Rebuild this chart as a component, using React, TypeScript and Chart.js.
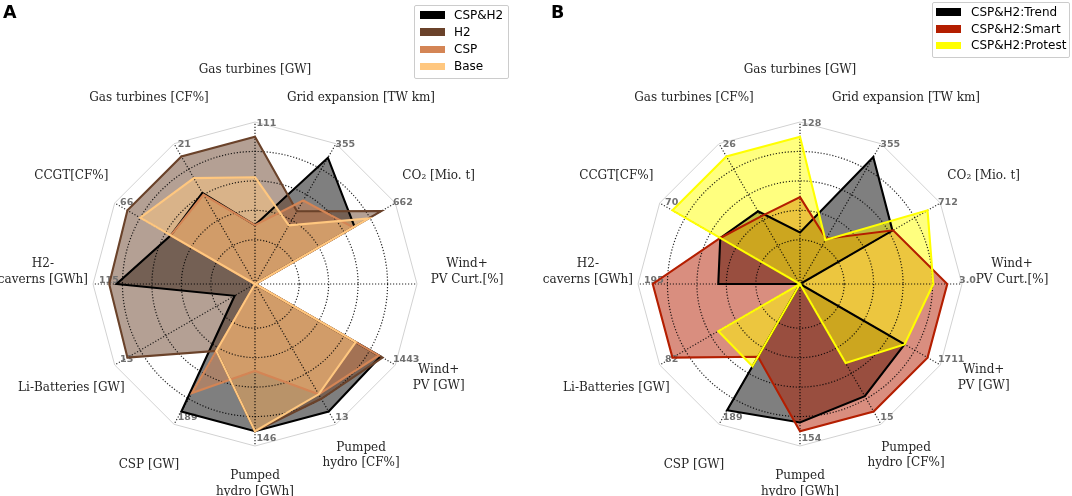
import React, { useEffect, useRef } from "react";
import { Chart, registerables } from "chart.js";

Chart.register(...registerables);

// ---------- data ----------
const AXIS_LABELS = [
  "Gas turbines [GW]",
  "Grid expansion [TW km]",
  "CO\u2082 [Mio. t]",
  "Wind+\nPV Curt.[%]",
  "Wind+\nPV [GW]",
  "Pumped\nhydro [CF%]",
  "Pumped\nhydro [GWh]",
  "CSP [GW]",
  "Li-Batteries [GW]",
  "H2-\ncaverns [GWh]",
  "CCGT[CF%]",
  "Gas turbines [CF%]",
];

const TICKS_A = ["111", "355", "662", "", "1443", "13", "146", "189", "13", "115", "66", "21"];
const TICKS_B = ["128", "355", "712", "3.0", "1711", "15", "154", "189", "82", "195", "70", "26"];

// values as fraction of each axis maximum (the tick label)
const SERIES_A = ["CSP&H2", "H2", "CSP", "Base"];
const COLORS_A = ["#000000", "#6a422a", "#d48555", "#ffc77f"];
const CSP_H2 = [0.4, 0.99, 0.78, 0, 0.985, 1.0, 1.0, 1.0, 0.16, 0.94, 0.66, 0.715];
const H2 = [1.0, 0.57, 0.99, 0, 1.0, 0.9, 1.0, 0.525, 1.0, 0.99, 1.0, 1.0];
const CSP = [0.4, 0.655, 0.77, 0, 0.97, 0.865, 0.59, 0.855, 0, 0, 0.66, 0.7];
const BASE = [0.725, 0.46, 0.89, 0, 0.79, 0.865, 1.0, 0.525, 0, 0, 0.9, 0.83];

const SERIES_B = ["CSP&H2:Trend", "CSP&H2:Smart", "CSP&H2:Protest"];
const COLORS_B = ["#000000", "#b41e00", "#ffff00"];
const TREND = [0.35, 0.995, 0.725, 0, 0.82, 0.88, 0.94, 0.99, 0, 0.555, 0.625, 0.57];
const SMART = [0.59, 0.355, 0.73, 1.0, 1.0, 1.0, 1.0, 0.57, 1.0, 1.0, 0.625, 0.53];
const PROTEST = [1.0, 0.345, 1.0, 0.905, 0.82, 0.62, 0, 0.645, 0.64, 0, 1.0, 1.0];

const RING_VALUES = [0.3, 0.5, 0.7, 0.9];
const SCALE_MAX = 1.1;
const TICK_LABEL_AT = 1.07;
const AXIS_LABEL_AT = 1.44;

// ---------- helpers ----------
function hexA(hex: string, a: number) {
  const n = parseInt(hex.slice(1), 16);
  return `rgba(${(n >> 16) & 255},${(n >> 8) & 255},${n & 255},${a})`;
}

function overlayPlugin(ticks: string[]) {
  return {
    id: "radarOverlay",
    beforeDatasetsDraw(chart: any) {
      const s = chart.scales.r;
      const ctx = chart.ctx as CanvasRenderingContext2D;
      const n = chart.data.labels.length;
      ctx.save();
      // outer polygon frame
      ctx.lineWidth = 1;
      ctx.strokeStyle = "#d2d2d2";
      ctx.setLineDash([]);
      ctx.beginPath();
      for (let i = 0; i < n; i++) {
        const p = s.getPointPositionForValue(i, SCALE_MAX);
        if (i === 0) ctx.moveTo(p.x, p.y);
        else ctx.lineTo(p.x, p.y);
      }
      ctx.closePath();
      ctx.stroke();
      // dotted rings
      ctx.strokeStyle = "rgba(0,0,0,0.85)";
      ctx.lineWidth = 1.2;
      ctx.setLineDash([1.2, 1.8]);
      for (const v of RING_VALUES) {
        const r = s.getDistanceFromCenterForValue(v);
        ctx.beginPath();
        ctx.arc(s.xCenter, s.yCenter, r, 0, Math.PI * 2);
        ctx.stroke();
      }
      // dotted spokes
      for (let i = 0; i < n; i++) {
        const p = s.getPointPositionForValue(i, SCALE_MAX);
        ctx.beginPath();
        ctx.moveTo(s.xCenter, s.yCenter);
        ctx.lineTo(p.x, p.y);
        ctx.stroke();
      }
      // maxima labels
      ctx.setLineDash([]);
      ctx.fillStyle = "#707070";
      ctx.font = 'bold 9.5px "DejaVu Sans"';
      ctx.textAlign = "left";
      ctx.textBaseline = "middle";
      ticks.forEach((t, i) => {
        if (!t) return;
        const p = s.getPointPositionForValue(i, TICK_LABEL_AT);
        ctx.fillText(t, p.x + 1.5, p.y - 3);
      });
      ctx.restore();
    },
    afterDraw(chart: any) {
      const s = chart.scales.r;
      const ctx = chart.ctx as CanvasRenderingContext2D;
      ctx.save();
      ctx.fillStyle = "#262626";
      ctx.font = '12px "DejaVu Serif"';
      ctx.textAlign = "center";
      ctx.textBaseline = "middle";
      AXIS_LABELS.forEach((lab, i) => {
        const lines = lab.split("\n");
        const p = s.getPointPositionForValue(i, AXIS_LABEL_AT);
        const k = lines.length;
        const base = k > 1 ? p.y - 4.5 : p.y - 2.5;
        lines.forEach((ln, j) => {
          ctx.fillText(ln, p.x, base - (k - 1 - j) * 15.2);
        });
      });
      ctx.restore();
    },
  };
}

type PanelProps = {
  left: number;
  padLeft: number;
  names: string[];
  colors: string[];
  values: number[][];
  ticks: string[];
};

function RadarPanel({ left, padLeft, names, colors, values, ticks }: PanelProps) {
  const ref = useRef<HTMLCanvasElement | null>(null);
  useEffect(() => {
    if (!ref.current) return;
    const n = names.length;
    const chart = new Chart(ref.current, {
      type: "radar",
      data: {
        labels: AXIS_LABELS.map((l) => l.replace("\n", " ")),
        datasets: names.map((name, k) => ({
          label: name,
          data: values[k],
          borderColor: colors[k],
          backgroundColor: hexA(colors[k], 0.5),
          borderWidth: 2.1,
          fill: true,
          pointRadius: 0,
          pointHoverRadius: 0,
          order: n - k,
          borderJoinStyle: "miter" as const,
        })),
      },
      options: {
        responsive: false,
        animation: false,
        events: [],
        layout: { padding: { left: padLeft, right: 536 - padLeft - 324, top: 122, bottom: 50 } },
        plugins: {
          legend: { display: false },
          tooltip: { enabled: false },
          filler: { drawTime: "beforeDatasetsDraw" },
        } as any,
        elements: { line: { tension: 0 } },
        scales: {
          r: {
            min: 0,
            max: SCALE_MAX,
            ticks: { display: false },
            grid: { display: false },
            angleLines: { display: false },
            pointLabels: { display: false },
          },
        },
      },
      plugins: [overlayPlugin(ticks)],
    });
    return () => chart.destroy();
  }, []);
  return (
    <canvas
      ref={ref}
      width={536}
      height={496}
      style={{ position: "absolute", left, top: 0, width: 536, height: 496, display: "block" }}
    />
  );
}

function Legend({ left, top, width, height, rowY, swatchLeft, textLeft, names, colors }: any) {
  return (
    <div
      style={{
        position: "absolute",
        left,
        top,
        width,
        height,
        border: "1px solid #cccccc",
        borderRadius: 2,
        background: "rgba(255,255,255,0.8)",
        boxSizing: "border-box",
      }}
    >
      {names.map((nm: string, i: number) => (
        <div
          key={nm}
          style={{
            position: "absolute",
            left: 0,
            top: rowY[i] - top - 1 - 8.5,
            height: 17,
            display: "flex",
            alignItems: "center",
            whiteSpace: "nowrap",
          }}
        >
          <div
            style={{
              marginLeft: swatchLeft - left - 1,
              width: 25,
              height: 7.5,
              background: colors[i],
            }}
          />
          <div
            style={{
              marginLeft: textLeft - swatchLeft - 25,
              font: '12px "DejaVu Sans"',
              lineHeight: "12px",
              color: "#000",
            }}
          >
            {nm}
          </div>
        </div>
      ))}
    </div>
  );
}

const titleStyle: React.CSSProperties = {
  position: "absolute",
  top: 4,
  font: 'bold 17.5px "DejaVu Sans"',
  lineHeight: "17.5px",
  color: "#000",
};

export default function App() {
  return (
    <div
      style={{
        position: "absolute",
        left: 0,
        top: 0,
        width: 1072,
        height: 496,
        overflow: "hidden",
        background: "#fff",
      }}
    >
      <RadarPanel
        left={0}
        padLeft={93}
        names={SERIES_A}
        colors={COLORS_A}
        values={[CSP_H2, H2, CSP, BASE]}
        ticks={TICKS_A}
      />
      <RadarPanel
        left={536}
        padLeft={102}
        names={SERIES_B}
        colors={COLORS_B}
        values={[TREND, SMART, PROTEST]}
        ticks={TICKS_B}
      />
      <div style={{ ...titleStyle, left: 3 }}>A</div>
      <div style={{ ...titleStyle, left: 551 }}>B</div>
      <Legend
        left={414}
        top={5}
        width={95}
        height={74}
        rowY={[15, 32.2, 49.3, 66.4]}
        swatchLeft={420}
        textLeft={454}
        names={SERIES_A}
        colors={COLORS_A}
      />
      <Legend
        left={932}
        top={2}
        width={138}
        height={56}
        rowY={[11.8, 28.8, 45.3]}
        swatchLeft={936}
        textLeft={971}
        names={SERIES_B}
        colors={COLORS_B}
      />
    </div>
  );
}
